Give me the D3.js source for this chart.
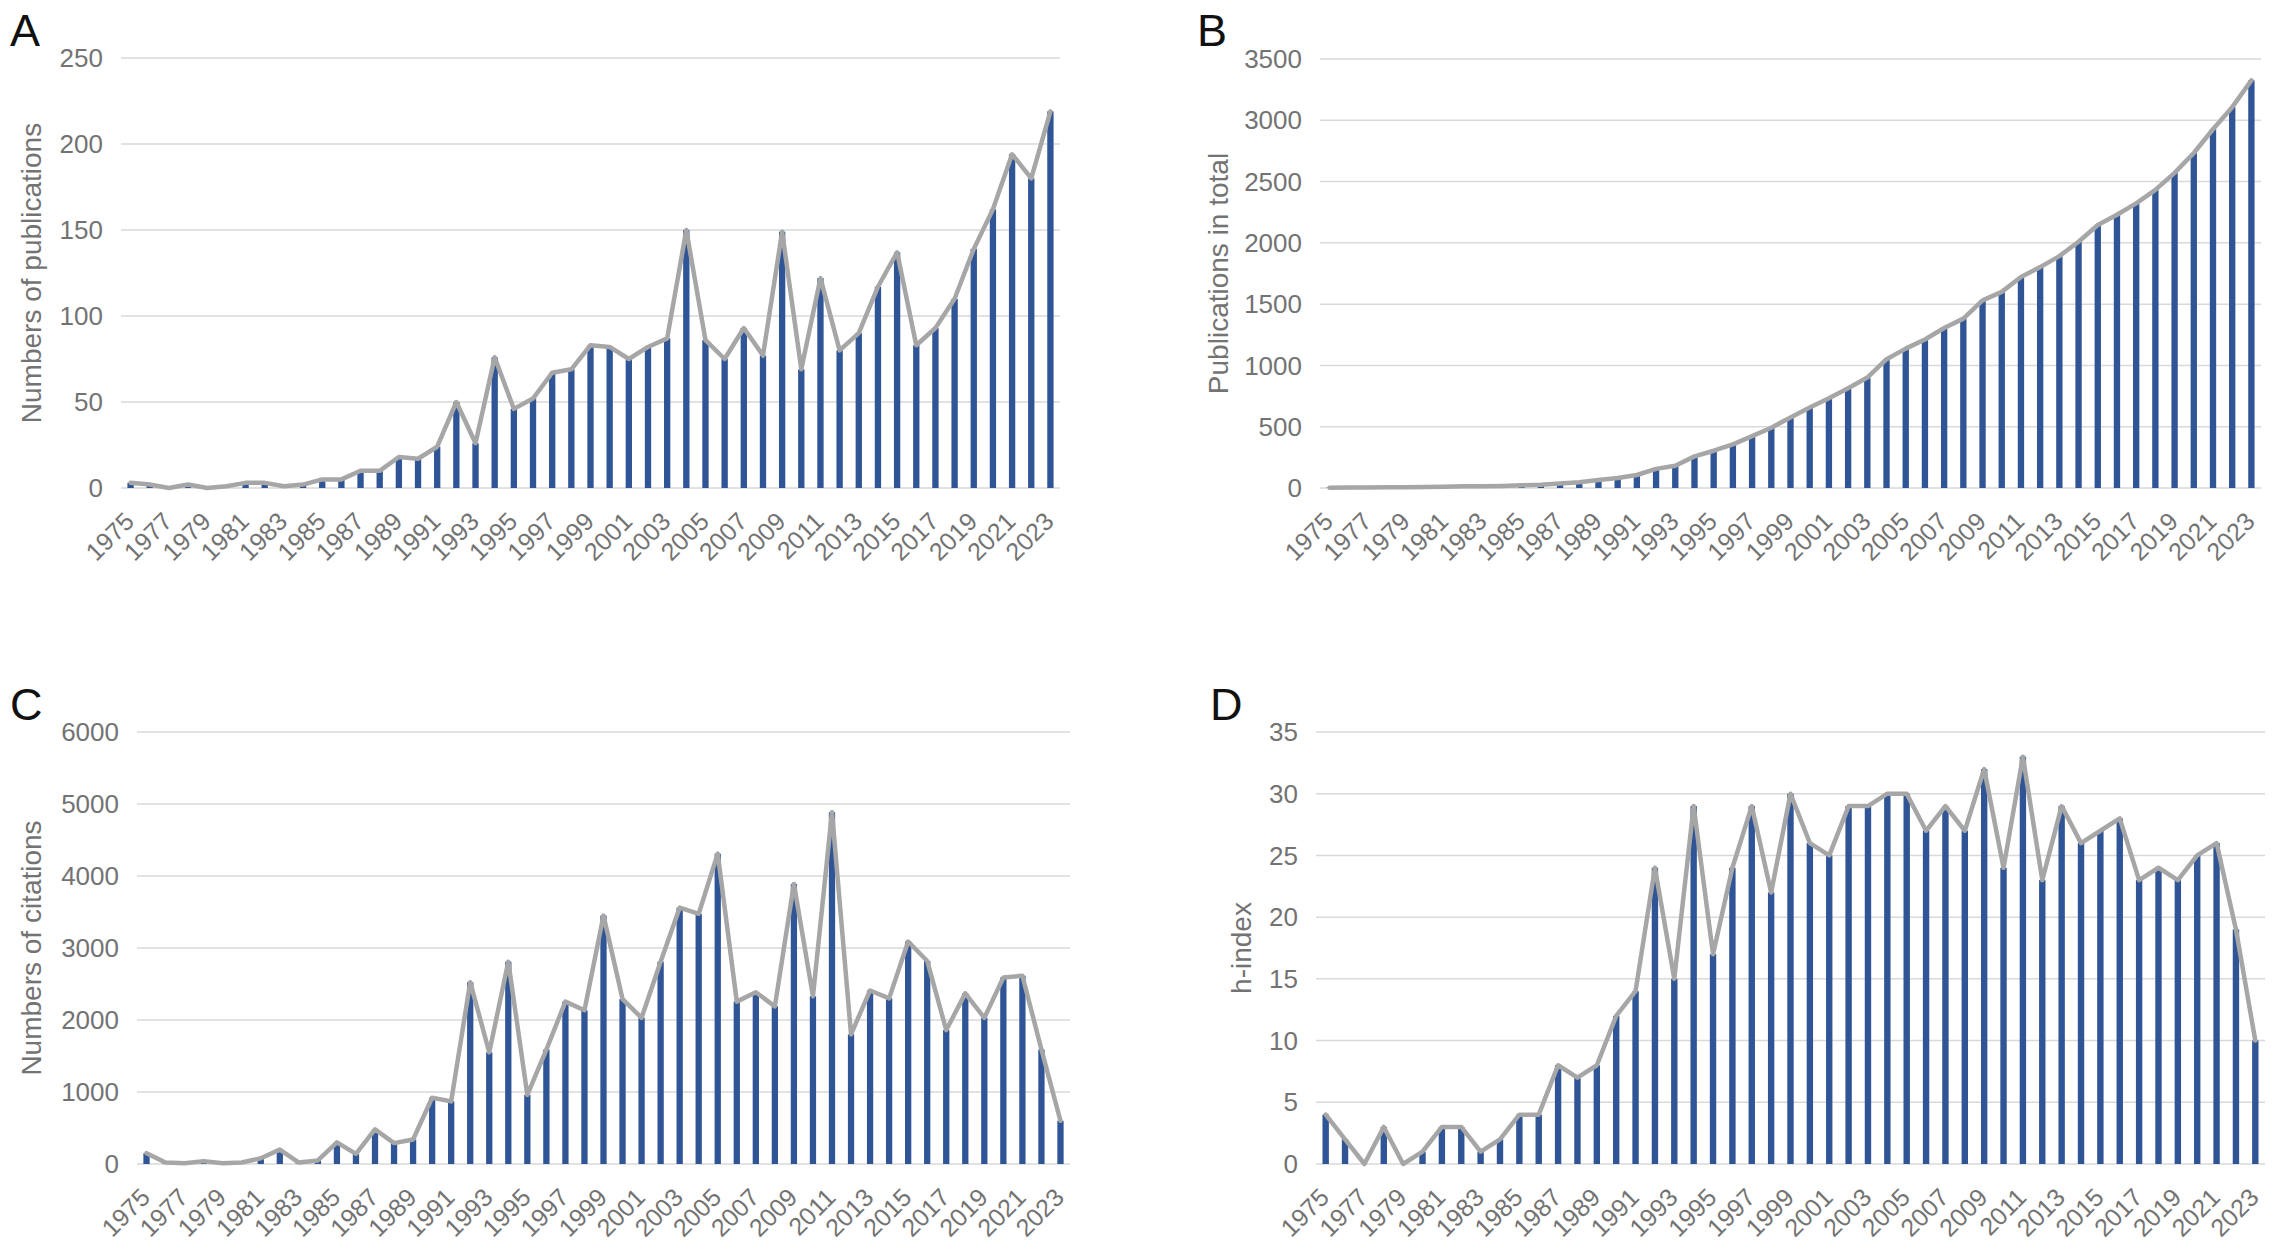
<!DOCTYPE html>
<html>
<head>
<meta charset="utf-8">
<script src="https://cdn.jsdelivr.net/npm/d3@7"></script>
<style>
  body { margin: 0; background: #fff; }
  svg { display: block; font-family: "Liberation Sans", Arial, sans-serif; }
  .tick-y { fill: #737373; font-size: 26px; }
  .tick-x { fill: #737373; font-size: 25px; }
  .axis-title { fill: #737373; font-size: 28px; }
  .panel-letter { fill: #111; font-size: 45px; font-family: "Liberation Sans", Arial, sans-serif; }
</style>
</head>
<body>
<svg id="chart" width="2280" height="1248"></svg>
<script>
const years = [1975, 1976, 1977, 1978, 1979, 1980, 1981, 1982, 1983, 1984,
  1985, 1986, 1987, 1988, 1989, 1990, 1991, 1992, 1993, 1994,
  1995, 1996, 1997, 1998, 1999, 2000, 2001, 2002, 2003, 2004,
  2005, 2006, 2007, 2008, 2009, 2010, 2011, 2012, 2013, 2014,
  2015, 2016, 2017, 2018, 2019, 2020, 2021, 2022, 2023];

// A: publications per year
const pubsPerYear = [3, 2, 0, 2, 0, 1, 3, 3, 1, 2,
  5, 5, 10, 10, 18, 17, 24, 50, 26, 76,
  46, 52, 67, 69, 83, 82, 75, 82, 87, 150,
  86, 75, 93, 77, 149, 69, 122, 80, 90, 117,
  137, 83, 93, 110, 139, 162, 194, 180, 219];

// B: publications in total
const pubsTotal = [3, 5, 5, 7, 7, 8, 11, 14, 15, 17,
  22, 27, 37, 47, 65, 82, 106, 156, 182, 258,
  304, 356, 423, 492, 575, 657, 732, 814, 901, 1051,
  1137, 1212, 1305, 1382, 1531, 1600, 1722, 1802, 1892, 2009,
  2146, 2229, 2322, 2432, 2571, 2733, 2927, 3107, 3326];

// C: citations per year
const citations = [150, 20, 10, 40, 10, 20, 80, 200, 20, 50,
  300, 140, 480, 290, 340, 920, 870, 2525, 1550, 2810,
  960, 1590, 2255, 2135, 3450, 2290, 2030, 2810, 3560, 3475,
  4310, 2255, 2385, 2190, 3890, 2330, 4885, 1800, 2410, 2300,
  3090, 2820, 1860, 2370, 2030, 2590, 2615, 1590, 600];

// D: h-index
const hIndex = [4, 2, 0, 3, 0, 1, 3, 3, 1, 2,
  4, 4, 8, 7, 8, 12, 14, 24, 15, 29,
  17, 24, 29, 22, 30, 26, 25, 29, 29, 30,
  30, 27, 29, 27, 32, 24, 33, 23, 29, 26,
  27, 28, 23, 24, 23, 25, 26, 19, 10];

const ticksA = [0, 50, 100, 150, 200, 250];
const ticksB = [0, 500, 1000, 1500, 2000, 2500, 3000, 3500];
const ticksC = [0, 1000, 2000, 3000, 4000, 5000, 6000];
const ticksD = [0, 5, 10, 15, 20, 25, 30, 35];

const barColor = "#2f5597";
const lineColor = "#a6a6a6";
const gridColor = "#d9d9d9";

const svg = d3.select("#chart");

const panels = [
  { letter: "A", values: pubsPerYear, ticks: ticksA, title: "Numbers of publications",
    left: 121, right: 1060, top: 58, bottom: 488, letterX: 10, letterY: 46, titleX: 31 },
  { letter: "B", values: pubsTotal, ticks: ticksB, title: "Publications in total",
    left: 1320, right: 2261, top: 59, bottom: 488, letterX: 1197, letterY: 46, titleX: 1218 },
  { letter: "C", values: citations, ticks: ticksC, title: "Numbers of citations",
    left: 137, right: 1070, top: 732, bottom: 1164, letterX: 10, letterY: 720, titleX: 31 },
  { letter: "D", values: hIndex, ticks: ticksD, title: "h-index",
    left: 1316, right: 2265, top: 732, bottom: 1164, letterX: 1210, letterY: 720, titleX: 1241 }
];

panels.forEach(drawPanel);

function drawPanel(p) {
  const g = svg.append("g");
  const x = d3.scaleBand().domain(years).range([p.left, p.right]).padding(0);
  const y = d3.scaleLinear().domain([0, d3.max(p.ticks)]).range([p.bottom, p.top]);
  const cx = d => x(d) + x.bandwidth() / 2;
  const barW = x.bandwidth() * 0.33;

  // gridlines
  g.selectAll(".grid").data(p.ticks).enter().append("line")
    .attr("x1", p.left).attr("x2", p.right)
    .attr("y1", d => y(d)).attr("y2", d => y(d))
    .attr("stroke", gridColor).attr("stroke-width", 1.5);

  // y tick labels
  g.selectAll(".tick-y").data(p.ticks).enter().append("text")
    .attr("class", "tick-y")
    .attr("x", p.left - 18).attr("y", d => y(d)).attr("dy", "0.35em")
    .attr("text-anchor", "end").text(d => d);

  // bars
  g.selectAll(".bar").data(years).enter().append("rect")
    .attr("x", d => cx(d) - barW / 2).attr("width", barW)
    .attr("y", (d, i) => y(p.values[i]))
    .attr("height", (d, i) => p.bottom - y(p.values[i]))
    .attr("fill", barColor);

  // trend line
  const line = d3.line().x(d => cx(d[0])).y(d => y(d[1]));
  g.append("path")
    .datum(years.map((yr, i) => [yr, p.values[i]]))
    .attr("d", line).attr("fill", "none")
    .attr("stroke", lineColor).attr("stroke-width", 4.5)
    .attr("stroke-linejoin", "round").attr("stroke-linecap", "round");

  // x tick labels, every other year
  g.selectAll(".tick-x").data(years.filter((d, i) => i % 2 === 0)).enter().append("text")
    .attr("class", "tick-x")
    .attr("text-anchor", "end")
    .attr("transform", d => `translate(${cx(d) + 5},${p.bottom + 35}) rotate(-45)`)
    .text(d => d);

  // axis title
  g.append("text").attr("class", "axis-title")
    .attr("text-anchor", "middle")
    .attr("transform", `translate(${p.titleX + 10},${(p.top + p.bottom) / 2}) rotate(-90)`)
    .text(p.title);

  // panel letter
  g.append("text").attr("class", "panel-letter")
    .attr("x", p.letterX).attr("y", p.letterY).text(p.letter);
}
</script>
</body>
</html>
